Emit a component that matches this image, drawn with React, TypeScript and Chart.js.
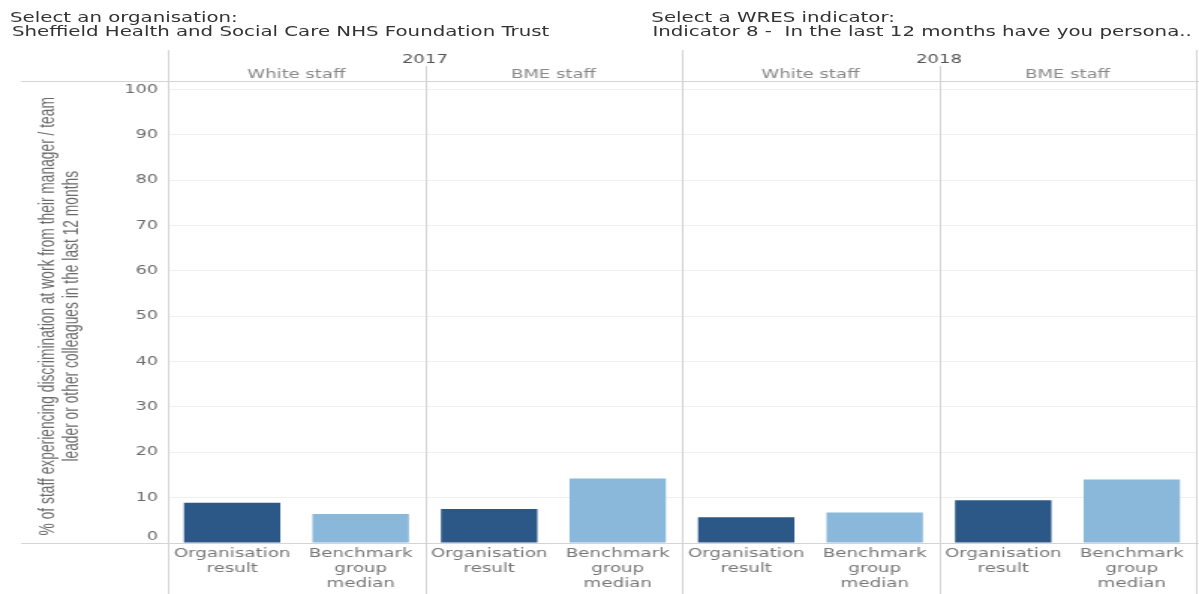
import React, { useEffect, useRef } from "react";
import { Chart, registerables } from "chart.js";

Chart.register(...registerables);

// ---- data ----
const years = ["2017", "2018"];
const staffGroups = ["White staff", "BME staff"];
const barLabels = [["Organisation", "result"], ["Benchmark", "group", "median"]];
// one value per panel: 2017 White, 2017 BME, 2018 White, 2018 BME
const organisationResult = [8.9, 7.5, 5.7, 9.4];
const benchmarkGroupMedian = [6.4, 14.2, 6.7, 14.0];
const yTickValues = [0, 10, 20, 30, 40, 50, 60, 70, 80, 90, 100];
const yAxisTitle = [
  "% of staff experiencing discrimination at work from their manager / team",
  "leader or other colleagues in the last 12 months",
];
const orgLabel = "Select an organisation:";
const orgValue = "Sheffield Health and Social Care NHS Foundation Trust";
const indLabel = "Select a WRES indicator:";
const indValue = "Indicator 8 -  In the last 12 months have you persona..";

const DARK = "#2b5886";
const LIGHT = "#8ab8da";

const W = 800;
const H = 594;
const STRETCH = 1199 / W;

export default function App() {
  const ref = useRef<HTMLCanvasElement | null>(null);

  useEffect(() => {
    const canvas = ref.current;
    if (!canvas) return;

    const labels: string[][] = [];
    const values: number[] = [];
    const colors: string[] = [];
    for (let p = 0; p < organisationResult.length; p++) {
      labels.push(barLabels[0]);
      values.push(organisationResult[p]);
      colors.push(DARK);
      labels.push(barLabels[1]);
      values.push(benchmarkGroupMedian[p]);
      colors.push(LIGHT);
    }

    const panelPlugin = {
      id: "panelPlugin",
      beforeDraw(chart: any) {
        const ys = chart.scales.y;
        const items = ys.getLabelItems(chart.chartArea);
        items.forEach((it: any) => {
          if (String(it.label) === "0" && !it._shifted) {
            it.options.translation[1] -= 6.3;
            it._shifted = true;
          }
        });
      },
      afterDraw(chart: any) {
        const ctx = chart.ctx as CanvasRenderingContext2D;
        const xs = chart.scales.x;
        const area = chart.chartArea;
        const half = (xs.getPixelForValue(1) - xs.getPixelForValue(0)) / 2;
        const boundary = (i: number) => xs.getPixelForValue(i) + half;
        const px = (v: number) => Math.round(v) + 0.5;

        ctx.save();
        ctx.lineWidth = 1;
        ctx.strokeStyle = "#d4d4d4";
        const line = (x1: number, y1: number, x2: number, y2: number) => {
          ctx.beginPath();
          ctx.moveTo(x1, y1);
          ctx.lineTo(x2, y2);
          ctx.stroke();
        };
        // horizontal header line and baseline
        line(14, 81.5, W, 81.5);
        line(14, px(area.bottom), W, px(area.bottom));

        const left = area.left;
        const yearEdges = [left, boundary(3), boundary(7)];
        const subEdges = [boundary(1), boundary(5)];
        yearEdges.forEach((x) => line(px(x), 50, px(x), H));
        subEdges.forEach((x) => line(px(x), 66, px(x), H));

        ctx.textAlign = "center";
        ctx.textBaseline = "middle";
        ctx.font = "12px 'DejaVu Sans'";
        ctx.fillStyle = "#555555";
        years.forEach((yr, i) => {
          const cx = (yearEdges[i] + yearEdges[i + 1]) / 2;
          ctx.fillText(yr, cx, 59.5);
        });
        ctx.fillStyle = "#888888";
        const panelEdges = [left, boundary(1), boundary(3), boundary(5), boundary(7)];
        for (let p = 0; p < 4; p++) {
          const cx = (panelEdges[p] + panelEdges[p + 1]) / 2;
          ctx.fillText(staffGroups[p % 2], cx, 74.5);
        }
        ctx.restore();
      },
    };

    const chart = new Chart(canvas, {
      type: "bar",
      data: {
        labels,
        datasets: [
          {
            data: values,
            backgroundColor: colors,
            borderWidth: 0,
            barPercentage: 0.75,
            categoryPercentage: 1,
          },
        ],
      },
      options: {
        animation: false,
        responsive: false,
        devicePixelRatio: 1,
        layout: { padding: { top: 89.5, right: 2, bottom: 0, left: 0 } },
        plugins: { legend: { display: false }, tooltip: { enabled: false } },
        scales: {
          x: {
            grid: { display: false, drawTicks: false },
            border: { display: false },
            ticks: {
              autoSkip: false,
              maxRotation: 0,
              minRotation: 0,
              padding: 3,
              color: "#777777",
              font: { family: "'DejaVu Sans'", size: 12.2, lineHeight: 1.25 },
            },
            afterFit: (s: any) => {
              s.height = 51;
            },
          },
          y: {
            min: 0,
            max: 100,
            afterBuildTicks: (s: any) => {
              s.ticks = yTickValues.map((v) => ({ value: v }));
            },
            grid: { color: "#efefef", drawTicks: false },
            border: { display: false },
            ticks: {
              padding: 6.6,
              color: "#6b6b6b",
              font: { family: "'DejaVu Sans'", size: 11.7 },
            },
            title: {
              display: true,
              text: yAxisTitle,
              color: "#6a6a6a",
              padding: { top: 23.6, bottom: 0 },
              font: { family: "'Liberation Sans'", size: 13.8, lineHeight: 1.196 },
            },
            afterFit: (s: any) => {
              s.width = 112;
            },
          },
        },
      },
      plugins: [panelPlugin],
    });

    return () => chart.destroy();
  }, []);

  const textStyle: React.CSSProperties = {
    position: "absolute",
    fontFamily: "'DejaVu Sans'",
    fontSize: "13.2px",
    lineHeight: "14.2px",
    color: "#333333",
    whiteSpace: "pre",
  };

  return (
    <div
      style={{
        position: "absolute",
        left: 0,
        top: 0,
        width: W,
        height: H,
        transform: `scaleX(${STRETCH})`,
        transformOrigin: "0 0",
        background: "#ffffff",
      }}
    >
      <canvas
        ref={ref}
        width={W}
        height={H}
        style={{ position: "absolute", left: 0, top: 0, width: W + "px", height: H + "px" }}
      />
      <div style={{ ...textStyle, left: 6.7, top: 11.2 }}>
        <div>{orgLabel}</div>
        <div style={{ paddingLeft: 1.3 }}>{orgValue}</div>
      </div>
      <div style={{ ...textStyle, left: 434.6, top: 11.2 }}>
        <div>{indLabel}</div>
        <div style={{ paddingLeft: 0.7 }}>{indValue}</div>
      </div>
    </div>
  );
}
